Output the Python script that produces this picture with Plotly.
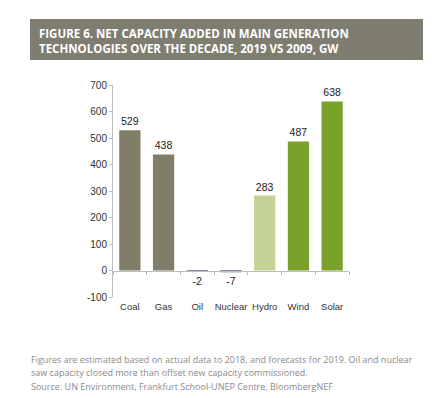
import plotly.graph_objects as go

categories = ["Coal", "Gas", "Oil", "Nuclear", "Hydro", "Wind", "Solar"]
values = [529, 438, -2, -7, 283, 487, 638]
labels = ["529", "438", "-2", "-7", "283", "487", "638"]
colors = ["#807e69", "#807e69", "#858ca3", "#858ca3", "#c4d295", "#7aa12a", "#7aa12a"]
y_ticks = [-100, 0, 100, 200, 300, 400, 500, 600, 700]
y_tick_text = ["-100", "0", "100", "200", "300", "400", "500", "600", "700"]

title_lines = ["FIGURE 6. NET CAPACITY ADDED IN MAIN GENERATION",
               "TECHNOLOGIES OVER THE DECADE, 2019 VS 2009, GW"]
foot_lines = ["Figures are estimated based on actual data to 2018, and forecasts for 2019. Oil and nuclear",
              "saw capacity closed more than offset new capacity commissioned.",
              "Source: UN Environment, Frankfurt School-UNEP Centre, BloombergNEF"]

# page body adds an 8px offset, so the figure is sized/placed accordingly
W, H = 424, 390
L, R, T, B = 105, 83, 77, 101
PW, PH = W - L - R, H - T - B


def px(x):
    return (x - L) / PW


def py(y):
    return (H - B - y) / PH


fig = go.Figure()
fig.add_trace(go.Bar(
    x=categories, y=values, marker_color=colors, marker_line_width=0,
    text=labels, textposition="outside", cliponaxis=False,
    textfont=dict(family="Arial, Liberation Sans", size=10.5, color="#222222"),
    hoverinfo="skip", showlegend=False,
))
# invisible helper trace to carry the zero-level axis
fig.add_trace(go.Scatter(x=categories, y=[0] * len(categories), xaxis="x2",
                         mode="markers", marker=dict(opacity=0), hoverinfo="skip",
                         showlegend=False))

fig.update_layout(
    width=W, height=H,
    margin=dict(l=L, r=R, t=T, b=B),
    paper_bgcolor="white", plot_bgcolor="white",
    bargap=0.37,
    xaxis=dict(type="category", categoryorder="array", categoryarray=categories,
               range=[-0.5, 6.5], showline=False, showgrid=False, zeroline=False,
               ticks="", ticklabelstandoff=2,
               tickfont=dict(family="Arial, Liberation Sans", size=9.5, color="#333333")),
    xaxis2=dict(type="category", categoryorder="array", categoryarray=categories,
                overlaying="x", matches="x", anchor="free", position=0.125,
                showline=True, linecolor="#bdbdbd", linewidth=1,
                ticks="outside", tickson="boundaries", ticklen=3, tickcolor="#bdbdbd",
                showticklabels=False, showgrid=False, zeroline=False),
    yaxis=dict(range=[-100, 700], tickvals=y_ticks, ticktext=y_tick_text,
               showgrid=False, zeroline=False,
               showline=True, linecolor="#bdbdbd", linewidth=1,
               ticks="outside", ticklen=3, tickcolor="#bdbdbd",
               tickfont=dict(family="Arial, Liberation Sans", size=10, color="#333333")),
)

# title banner
fig.add_shape(type="rect", xref="paper", yref="paper",
              x0=px(22), x1=px(415), y0=py(52), y1=py(11),
              fillcolor="#7e7d70", line_width=0, layer="below")
for i, line in enumerate(title_lines):
    fig.add_annotation(xref="paper", yref="paper", x=px(28.5), y=py(25 + 15 * i),
                       xanchor="left", yanchor="middle", showarrow=False, align="left",
                       text=line,
                       font=dict(family="Open Sans", size=11.5, color="white", weight="bold"))
# right page edge
fig.add_shape(type="line", xref="paper", yref="paper",
              x0=px(420), x1=px(420), y0=-2, y1=2,
              line=dict(color="#e6e6e6", width=1))
# footnote
for i, line in enumerate(foot_lines):
    fig.add_annotation(xref="paper", yref="paper", x=px(21), y=py(351 + 13.5 * i),
                       xanchor="left", yanchor="middle", showarrow=False, align="left",
                       text=line,
                       font=dict(family="Open Sans", size=9, color="#8a8a8a"))

fig.write_html("out.html")
